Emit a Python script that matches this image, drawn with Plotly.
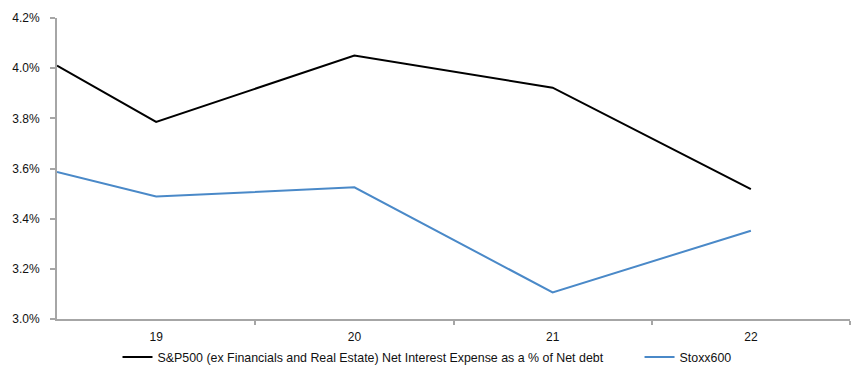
import plotly.graph_objects as go

x_pos = [-0.5, 0, 1, 2, 3]
sp500 = [4.010, 3.786, 4.050, 3.922, 3.518]
stoxx = [3.586, 3.488, 3.525, 3.106, 3.352]
tick_labels = ["19", "20", "21", "22"]
tick_centers = [0, 1, 2, 3]
tick_bounds = [0.5, 1.5, 2.5, 3.5]
y_ticks = [3.0, 3.2, 3.4, 3.6, 3.8, 4.0, 4.2]

font = dict(family="Liberation Sans, Arial, sans-serif", size=12, color="#111111")
lfont = dict(family="Liberation Sans, Arial, sans-serif", size=12.4, color="#111111")

fig = go.Figure()
fig.add_trace(go.Scatter(x=x_pos, y=sp500, mode="lines",
                         name="S&P500 (ex Financials and Real Estate) Net Interest Expense as a % of Net debt",
                         line=dict(color="#000000", width=2), legend="legend"))
fig.add_trace(go.Scatter(x=x_pos, y=stoxx, mode="lines", name="Stoxx600",
                         line=dict(color="#4a89c8", width=2), legend="legend2"))
fig.add_trace(go.Scatter(x=tick_centers, y=[None] * 4, xaxis="x2", showlegend=False,
                         hoverinfo="skip", mode="lines"))

fig.update_layout(
    width=852, height=387, autosize=False,
    margin=dict(l=57, r=2, t=18, b=68),
    paper_bgcolor="white", plot_bgcolor="white",
    font=font,
    showlegend=True,
    legend=dict(orientation="h", x=0.0763, xanchor="left", y=-0.078, yanchor="top",
                font=lfont),
    legend2=dict(orientation="h", x=0.7346, xanchor="left", y=-0.078, yanchor="top",
                 font=lfont),
    xaxis=dict(range=[-0.5, 3.5], tickvals=tick_bounds, showticklabels=False,
               ticks="outside", ticklen=4, tickcolor="#a6a6a6", tickwidth=2,
               showline=True, linecolor="#a6a6a6", linewidth=2, showgrid=False,
               zeroline=False, fixedrange=True),
    xaxis2=dict(range=[-0.5, 3.5], overlaying="x", side="bottom", tickvals=tick_centers,
                ticktext=tick_labels, ticks="", showline=False, showgrid=False,
                zeroline=False, tickfont=font, ticklabelstandoff=9),
    yaxis=dict(range=[3.0, 4.2], tickvals=y_ticks,
               ticktext=[f"{v:.1f}%" for v in y_ticks],
               ticks="outside", ticklen=5, tickcolor="#a6a6a6", tickwidth=2,
               showline=True, linecolor="#a6a6a6", linewidth=2, showgrid=False,
               zeroline=False, tickfont=font, ticklabelstandoff=8),
)

post = "document.body.style.margin='0';document.body.style.padding='0';"

fig.write_html("out.html", config={"responsive": False, "displayModeBar": False},
               post_script=post)
